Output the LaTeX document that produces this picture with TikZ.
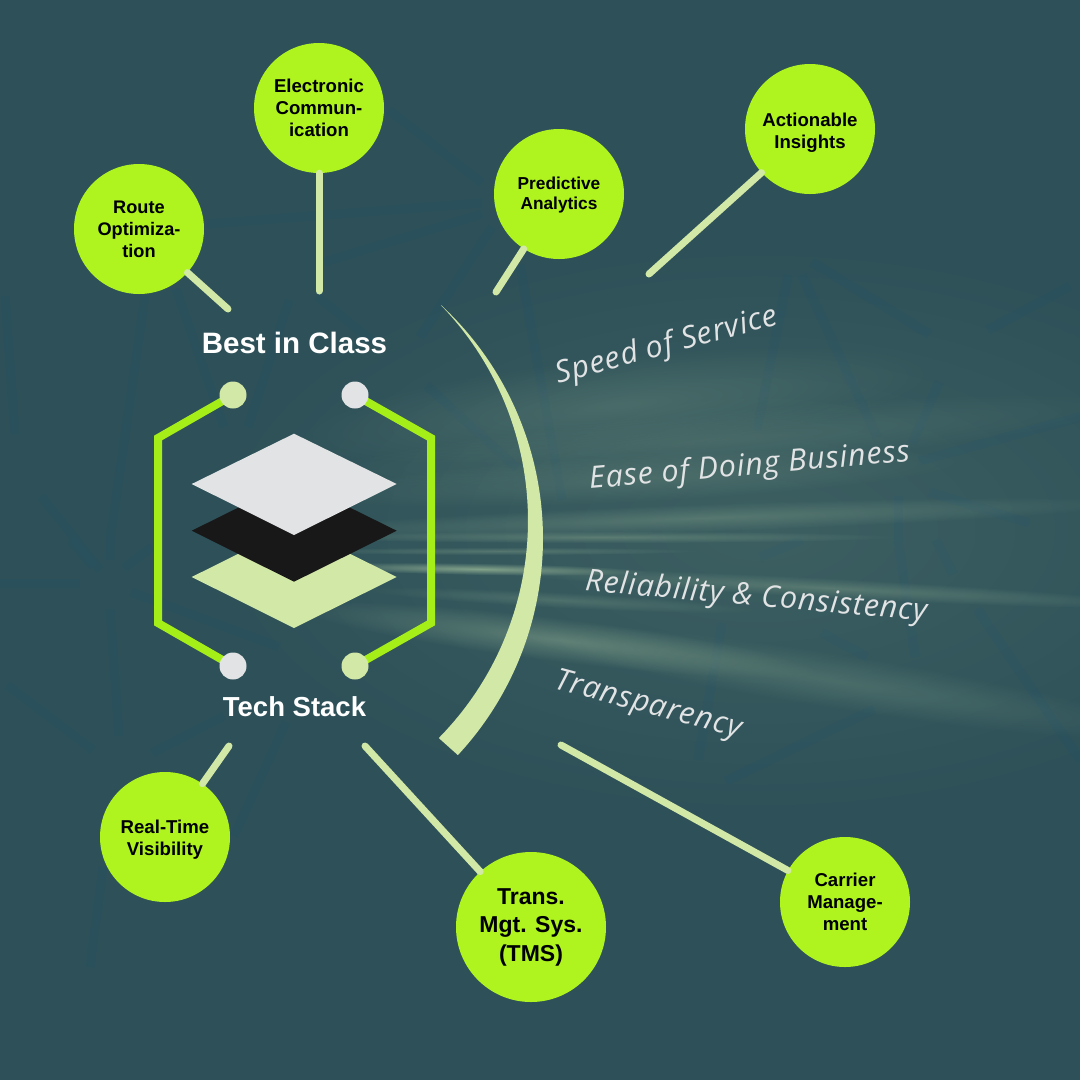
\documentclass[tikz,border=0pt]{standalone}
\usepackage{fontspec}
\setmainfont{Liberation Sans}
\newfontfamily\slantfont[LetterSpace=3]{Open Sans}
\usetikzlibrary{fadings}
\definecolor{bgteal}{HTML}{2E5159}
\definecolor{netline}{HTML}{28505F}
\definecolor{glowcol}{HTML}{86A68C}
\definecolor{lime}{HTML}{AFF41F}
\definecolor{hexlime}{HTML}{A6EE18}
\definecolor{pale}{HTML}{D1E8A6}
\definecolor{softgrey}{HTML}{E1E3E4}
\definecolor{darkslab}{HTML}{181818}
\tikzfading[name=softglow, inner color=transparent!0, outer color=transparent!100]
\newcommand{\streak}[6]{\fill[glowcol, opacity=#6, path fading=softglow,
  transform canvas={shift={(#1,#2)},rotate=#5}] (0,0) ellipse [x radius=#3pt, y radius=#4pt];}
\tikzset{
  hub/.style={circle, fill=lime, text=black, minimum size=130pt, inner sep=0pt, align=center, font=\bfseries\fontsize{18.6}{22}\selectfont},
  spoke/.style={draw=pale, line width=7pt, line cap=round},
  hexline/.style={draw=hexlime, line width=8pt, line join=miter},
  dot/.style={circle, minimum size=27pt, inner sep=0pt},
  headline/.style={text=white, font=\bfseries\fontsize{29.5}{34}\selectfont},
  slanted/.style={text=softgrey, font=\slantfont\itshape\fontsize{30.4}{36}\selectfont},
  net/.style={draw=netline, line width=9pt, opacity=.6}
}
\begin{document}
\begin{tikzpicture}[x=1pt,y=-1pt]
\useasboundingbox (0,0) rectangle (1080,1080);
\fill[bgteal] (0,0) rectangle (1080,1080);
% faint network behind everything
\begin{scope}
\clip (0,0) rectangle (1080,1080);
\foreach \ax/\ay/\bx/\by in {207/224/482/203,324/262/482/214,389/110/482/183,420/337/492/227,
  289/300/248/427,317/296/372/341,176/289/224/427,145/296/110/540,5/296/15/434,41/496/100/570,
  520/265/562/500,427/386/517/468,0/583/80/583,70/540/93/566,110/540/110/560,152/547/124/568,
  131/592/279/647,110/609/119/736,7/685/93/750,152/753/224/716,286/722/234/836,103/867/90/967,
  812/262/929/334,802/275/877/437,788/275/757/430,939/382/912/444,919/461/1080/417,988/330/1070/286,
  898/496/898/540,929/492/1029/523,898/540/915/657,936/540/953/574,977/609/1080/760,760/557/802/540,
  874/709/726/781,722/623/698/760,822/633/867/657}
  {\draw[net] (\ax,\ay) -- (\bx,\by);}
% light streaks fanning to the right
\streak{760}{530}{560}{290}{0}{.17}
\streak{620}{405}{320}{50}{6}{.25}
\streak{720}{440}{420}{30}{5}{.2}
\streak{640}{478}{330}{24}{3}{.25}
\streak{700}{518}{440}{14}{2}{.36}
\streak{600}{537}{300}{6}{0}{.45}
\streak{500}{551}{200}{4}{0}{.4}
\streak{480}{569}{170}{6}{-1}{.95}
\streak{830}{588}{340}{10}{-3}{.4}
\streak{560}{600}{200}{8}{-3}{.3}
\streak{560}{640}{260}{22}{-7}{.5}
\streak{830}{680}{330}{28}{-9}{.28}
\end{scope}
% spokes
\coordinate (routeEnd) at (228,309);
\coordinate (elecEnd) at (319,291);
\coordinate (predEnd) at (496,292);
\coordinate (actEnd) at (649,274);
\coordinate (realEnd) at (229,746);
\coordinate (tmsEnd) at (365,746);
\coordinate (carrEnd) at (561,745);
\node[hub, font=\bfseries\fontsize{18.2}{22}\selectfont] (route) at (139,229) {Route\\Optimiza-\\tion};
\node[hub] (elec) at (319,108) {Electronic\\Commun-\\ication};
\node[hub, font=\bfseries\fontsize{17.3}{20}\selectfont] (pred) at (559,194) {\rule{0pt}{14.5pt}Predictive\\Analytics};
\node[hub] (act) at (810,129) {\rule{0pt}{20pt}Actionable\\Insights};
\node[hub] (real) at (165,837) {\rule{0pt}{18pt}Real-Time\\Visibility};
\node[hub, minimum size=150pt, font=\bfseries\fontsize{23}{28.5}\selectfont] (tms) at (531,927) {Trans.\\Mgt. Sys.\\(TMS)};
\node[hub] (carr) at (845,902) {Carrier\\Manage-\\ment};
\foreach \h/\e in {route/routeEnd,elec/elecEnd,pred/predEnd,act/actEnd,real/realEnd,tms/tmsEnd,carr/carrEnd}
  {\draw[spoke] (\h) -- (\e);}
% bracketed hexagon
\coordinate (lt) at (158,438); \coordinate (lb) at (158,623);
\coordinate (rt) at (431,438); \coordinate (rb) at (431,623);
\coordinate (tlc) at (233,395); \coordinate (trc) at (355,395);
\coordinate (blc) at (233,666); \coordinate (brc) at (355,666);
\draw[hexline] (tlc) -- (lt) -- (lb) -- (blc);
\draw[hexline] (trc) -- (rt) -- (rb) -- (brc);
\node[dot, fill=pale] (tl) at (tlc) {};
\node[dot, fill=softgrey] (tr) at (trc) {};
\node[dot, fill=softgrey] (bl) at (blc) {};
\node[dot, fill=pale] (br) at (brc) {};
% stacked slabs
\fill[pale] (191.7,577) -- (294,526) -- (396.7,577) -- (294,628) -- cycle;
\fill[darkslab] (191.7,530.7) -- (294,480) -- (396.7,530.7) -- (294,581.7) -- cycle;
\fill[softgrey] (191.7,484) -- (294,433.7) -- (396.7,484) -- (294,535) -- cycle;
% crescent
\fill[pale] plot[domain=-47.2:42.9, samples=60, smooth] ({224.8+318.2*cos(\x)},{538.5+318.2*sin(\x)})
  -- plot[domain=44.6:-44, samples=60, smooth] ({218.2+309.8*cos(\x)},{520.5+309.8*sin(\x)}) -- cycle;
% labels
\node[headline] (best) at (294.5,343) {Best in Class};
\node[headline, font=\bfseries\fontsize{27.5}{32}\selectfont] (stack) at (294.5,707) {Tech Stack};
\node[slanted, rotate=15] (speed) at (667,346) {Speed of Service};
\node[slanted, rotate=5] (ease) at (749.5,467) {Ease of Doing Business};
\node[slanted, rotate=-5] (rely) at (756,598) {Reliability \& Consistency};
\node[slanted, rotate=-15] (trans) at (648,706) {Transparency};
\end{tikzpicture}
\end{document}
